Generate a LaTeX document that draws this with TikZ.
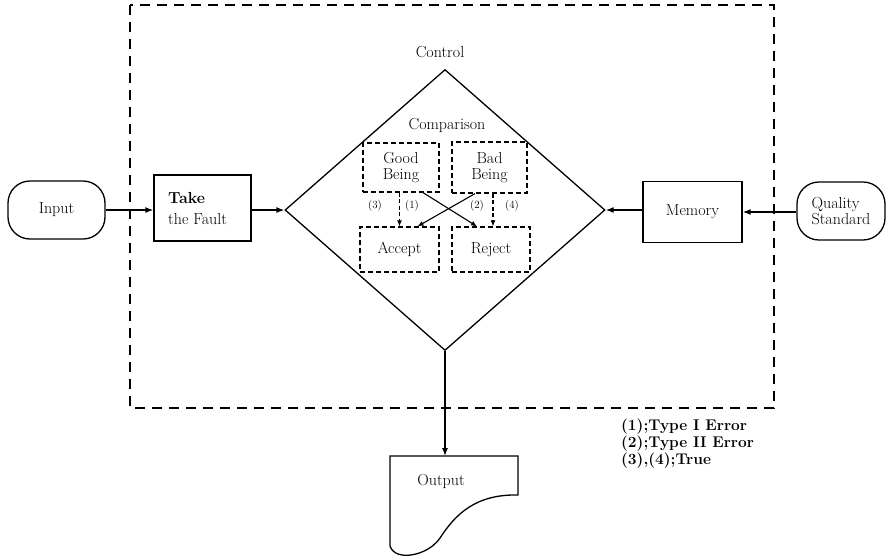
\documentclass[tikz,border=0pt]{standalone}
\usetikzlibrary{arrows.meta,shapes.geometric}
\begin{document}
\begin{tikzpicture}[x=1pt,y=-1pt,
  txt/.style={font=\fontsize{16}{19}\selectfont},
  solidbox/.style={draw,line width=1.3pt,inner sep=0pt,txt},
  dbox/.style={draw,line width=1.2pt,dash pattern=on 5pt off 3pt,inner sep=0pt,txt,align=center},
  oval/.style={draw,line width=1.3pt,rounded corners=22pt,inner sep=0pt,txt},
  arr/.style={line width=1.3pt,-{Latex[length=8pt,width=6pt]}},
  darr/.style={line width=1.1pt,dash pattern=on 4pt off 2.5pt,-{Latex[length=6pt,width=5pt]}},
  carr/.style={line width=1.1pt,-{Latex[length=6pt,width=5pt]}},
  small/.style={font=\fontsize{11}{13}\selectfont,inner sep=0pt},
  leg/.style={font=\bfseries\fontsize{15.5}{17}\selectfont,anchor=base west,inner sep=0pt}]
\useasboundingbox (0,0) rectangle (888,558);
% dashed frame
\draw[line width=1.5pt,dash pattern=on 10pt off 7pt] (130,5) rectangle (774,408);
% nodes
\node[oval,minimum width=97pt,minimum height=58pt] (input) at (56.5,210) {Input};
\node[solidbox,minimum width=97pt,minimum height=66pt] (take) at (202.5,208) {};
\node[txt,anchor=base west,inner sep=0pt] (takeA) at (168,203) {\bfseries Take};
\node[txt,anchor=base west,inner sep=0pt] (takeB) at (168,224) {the Fault};
\node[draw,diamond,line width=1.3pt,minimum width=320pt,minimum height=281pt,inner sep=0pt] (dia) at (445,210) {};
\node[txt,inner sep=0pt] (control) at (440,52) {Control};
\node[txt,inner sep=0pt] (comp) at (447,125) {Comparison};
\node[dbox,minimum width=76pt,minimum height=49pt] (good) at (401,167.5) {Good\\[-3pt]Being};
\node[dbox,minimum width=75pt,minimum height=51pt] (bad) at (489.5,167.5) {Bad\\[-3pt]Being};
\node[dbox,minimum width=79pt,minimum height=45pt] (accept) at (399.5,249.5) {Accept};
\node[dbox,minimum width=78pt,minimum height=45pt] (reject) at (491,249.5) {Reject};
\node[small] (l3) at (375,206) {(3)};
\node[small] (l1) at (412,206) {(1)};
\node[small] (l2) at (477,206) {(2)};
\node[small] (l4) at (512,206) {(4)};
\node[solidbox,minimum width=99pt,minimum height=61pt] (memory) at (692.5,212) {Memory};
\node[oval,minimum width=88pt,minimum height=58pt,align=left] (quality) at (841,211) {Quality\\[-3pt]Standard};
% output document
\coordinate (outtop) at (445,456);
\draw[line width=1.3pt] (390,456) -- (518,456) -- (518,495)
  .. controls (475,494) and (455,515) .. (440,538)
  .. controls (428,556) and (395,562) .. (390,546) -- cycle;
\node[txt,inner sep=0pt] (output) at (441,481) {Output};
% connectors
\draw[arr] (input.east) -- (input.east -| take.west);
\draw[arr] (take.east |- dia.west) -- (dia.west);
\draw[arr] (memory.west |- dia.east) -- (dia.east);
\draw[arr] (quality.west |- memory.east) -- (memory.east);
\draw[arr] (dia.south) -- (outtop);
\draw[darr] (accept.north |- good.south) -- (accept.north);
\draw[darr] ([xshift=2pt]reject.north |- bad.south) -- ([xshift=2pt]reject.north);
\draw[carr] ([xshift=22pt]good.south) -- ([xshift=-14pt]reject.north);
\draw[carr] ([xshift=-14.5pt]bad.south) -- ([xshift=18pt]accept.north);
% legend
\node[leg] (leg1) at (621,430) {(1);Type I Error};
\node[leg] (leg2) at (621,447) {(2);Type II Error};
\node[leg] (leg3) at (621,464) {(3),(4);True};
\end{tikzpicture}
\end{document}
